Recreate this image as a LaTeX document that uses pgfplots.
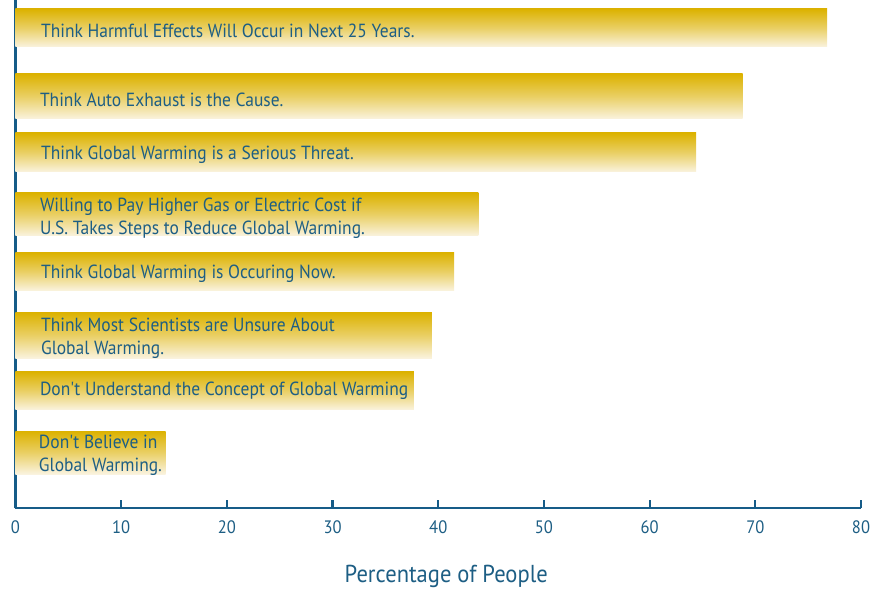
\documentclass[border=0pt]{standalone}
\usepackage{pgfplots}
\pgfplotsset{compat=1.18}
\usepackage{fontspec}
\setmainfont{PT Sans}[FakeStretch=0.92]
\definecolor{gold}{HTML}{DCB200}
\definecolor{pale}{HTML}{FAF3DF}
\definecolor{txt}{HTML}{1D5E84}
\definecolor{axc}{HTML}{165C88}
\begin{document}
\begin{tikzpicture}
\begin{axis}[
  scale only axis,
  width=845.5pt, height=508pt,
  xmin=0, xmax=80, ymin=0, ymax=508,
  axis lines=left,
  axis line style={-, draw=axc, line width=2.6pt},
  xtick={0,10,...,80}, ytick=\empty,
  tick align=inside,
  major tick length=8pt,
  tick style={draw=axc, line width=2.2pt},
  xticklabel style={font=\fontsize{18}{20}\selectfont, text=txt, yshift=-9pt},
  /pgf/number format/assume math mode=true,
  xlabel={Percentage of People},
  xlabel style={font=\fontsize{24.5}{28}\selectfont, text=txt, yshift=-25pt, xshift=8pt},
  clip=false,
]
\addplot[xbar, bar shift=0pt, bar width=38, draw=none, top color=gold, bottom color=pale, middle color=gold!55!pale] coordinates {(76.8,480)};
\addplot[xbar, bar shift=0pt, bar width=45, draw=none, top color=gold, bottom color=pale, middle color=gold!55!pale] coordinates {(68.8,411.5)};
\addplot[xbar, bar shift=0pt, bar width=39, draw=none, top color=gold, bottom color=pale, middle color=gold!55!pale] coordinates {(64.4,355.5)};
\addplot[xbar, bar shift=0pt, bar width=43, draw=none, top color=gold, bottom color=pale, middle color=gold!55!pale] coordinates {(43.8,293.5)};
\addplot[xbar, bar shift=0pt, bar width=38, draw=none, top color=gold, bottom color=pale, middle color=gold!55!pale] coordinates {(41.5,236.3)};
\addplot[xbar, bar shift=0pt, bar width=46, draw=none, top color=gold, bottom color=pale, middle color=gold!55!pale] coordinates {(39.4,172.6)};
\addplot[xbar, bar shift=0pt, bar width=38, draw=none, top color=gold, bottom color=pale, middle color=gold!55!pale] coordinates {(37.7,117.2)};
\addplot[xbar, bar shift=0pt, bar width=43, draw=none, top color=gold, bottom color=pale, middle color=gold!55!pale] coordinates {(14.2,55.5)};
\begin{scope}[every node/.style={anchor=west, text=txt, font=\fontsize{19}{23}\selectfont, align=left, inner sep=0pt}]
\node at (axis cs:2.4,477.5) {Think Harmful Effects Will Occur in Next 25 Years.};
\node at (axis cs:2.3,408) {Think Auto Exhaust is the Cause.};
\node at (axis cs:2.4,353) {Think Global Warming is a Serious Threat.};
\node at (axis cs:2.3,289.5) {Willing to Pay Higher Gas or Electric Cost if\\U.S. Takes Steps to Reduce Global Warming.};
\node at (axis cs:2.4,234) {Think Global Warming is Occuring Now.};
\node at (axis cs:2.4,169.5) {Think Most Scientists are Unsure About\\Global Warming.};
\node at (axis cs:2.3,117) {Don\textquotesingle t Understand the Concept of Global Warming};
\node at (axis cs:2.2,53) {Don\textquotesingle t Believe in\\Global Warming.};
\end{scope}
\end{axis}
\pgfresetboundingbox
\path (-15.5pt,-81pt) rectangle (867.5pt,508pt);
\end{tikzpicture}
\end{document}
